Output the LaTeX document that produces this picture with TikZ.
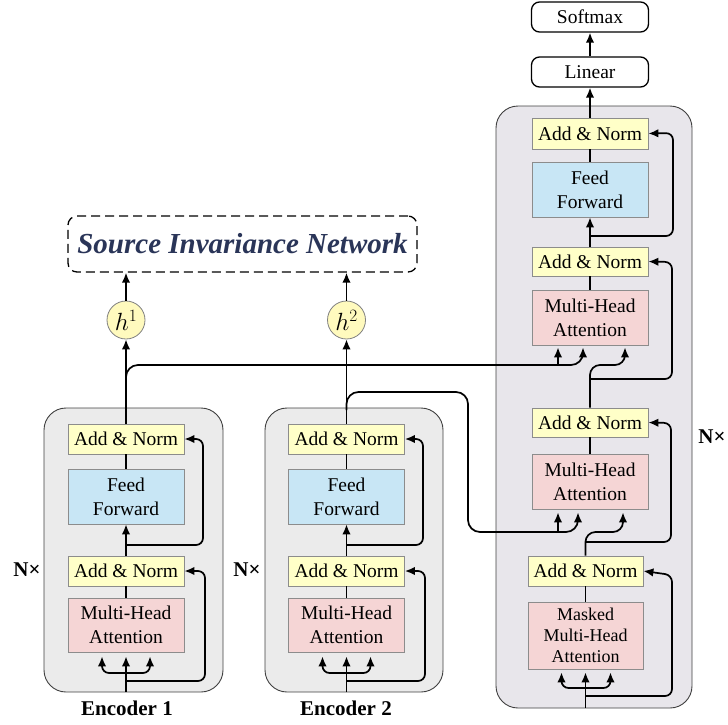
\documentclass[tikz,border=0pt]{standalone}
\usepackage{fontspec}
\setmainfont{Liberation Serif}
\usetikzlibrary{arrows.meta,calc}
\definecolor{anfill}{RGB}{255,255,200}
\definecolor{fffill}{RGB}{200,230,245}
\definecolor{mhfill}{RGB}{245,213,213}
\definecolor{encfill}{RGB}{235,235,235}
\definecolor{decfill}{RGB}{232,230,235}
\definecolor{hfill}{RGB}{255,250,190}
\definecolor{sincol}{RGB}{42,53,88}
\begin{document}
\begin{tikzpicture}[x=1pt,y=-1pt,
  arr/.style={-{Latex[length=10pt,width=8.5pt]}, line width=1.7pt},
  con/.style={line width=1.7pt},
  blk/.style={draw=black!45, line width=0.8pt, minimum width=116pt, inner sep=0pt, align=center, font=\fontsize{19.5}{24}\selectfont},
  an/.style={blk, fill=anfill, minimum height=30pt},
  ffb/.style={blk, fill=fffill, minimum height=55pt},
  mh/.style={blk, fill=mhfill, minimum height=55pt},
  outb/.style={draw, line width=1.3pt, rounded corners=8pt, minimum width=117pt, minimum height=30pt, inner sep=0pt, font=\fontsize{19.5}{24}\selectfont},
  cont/.style={draw=black!75, line width=0.9pt, rounded corners=22pt},
  hc/.style={circle, draw=black!50, line width=0.8pt, fill=hfill, minimum size=38pt, inner sep=0pt, font=\fontsize{23}{23}\selectfont},
  lab/.style={font=\bfseries\fontsize{21}{21}\selectfont}]
\useasboundingbox (0,0) rectangle (728,724);

% containers
\node[cont, fill=encfill, minimum width=179pt, minimum height=284pt] (c1) at (133.5,550) {};
\node[cont, fill=encfill, minimum width=178pt, minimum height=284pt] (c2) at (354,550) {};
\node[cont, fill=decfill, minimum width=196pt, minimum height=602pt] (cd) at (594,407) {};

% Source invariance network
\node[draw, line width=1.3pt, dash pattern=on 9pt off 5pt, rounded corners=9pt, minimum width=349pt, minimum height=56pt, text=sincol, font=\bfseries\itshape\fontsize{29}{29}\selectfont] (sin) at (242.5,244) {Source Invariance Network};

% Encoder 1
\node[an] (a1t) at (126,439) {Add \& Norm};
\node[ffb] (f1) at (126,496.5) {Feed\\Forward};
\node[an] (a1b) at (126,571) {Add \& Norm};
\node[mh, minimum height=54pt] (m1) at (126,625) {Multi-Head\\Attention};
\node[hc] (h1) at (126,320) {$h^1$};
\node[lab] (e1l) at (127,708) {Encoder 1};
\node[lab] (n1) at (27,570) {N×};

% Encoder 2
\node[an] (a2t) at (346.5,439) {Add \& Norm};
\node[ffb] (f2) at (346.5,496.5) {Feed\\Forward};
\node[an] (a2b) at (346.5,571) {Add \& Norm};
\node[mh, minimum height=54pt] (m2) at (346.5,625) {Multi-Head\\Attention};
\node[hc] (h2) at (346.5,320) {$h^2$};
\node[lab] (e2l) at (346,708) {Encoder 2};
\node[lab] (n2) at (247,570) {N×};

% Decoder
\node[outb] (sm) at (590,17) {Softmax};
\node[outb] (lin) at (590,72) {Linear};
\node[an, minimum height=31pt] (d3) at (590,133.5) {Add \& Norm};
\node[ffb] (dff) at (590,189.5) {Feed\\Forward};
\node[an, minimum height=29pt] (d2) at (590,261.5) {Add \& Norm};
\node[mh] (dm2) at (590,317.5) {Multi-Head\\Attention};
\node[an, minimum height=29pt] (d1) at (590,422.5) {Add \& Norm};
\node[mh] (dm1) at (590,481.5) {Multi-Head\\Attention};
\node[an, minimum width=115pt] (d0) at (585.5,571) {Add \& Norm};
\node[mh, minimum width=115pt, minimum height=67pt, font=\fontsize{18}{21}\selectfont] (dm0) at (585.5,635.5) {Masked\\Multi-Head\\Attention};
\node[lab] (nd) at (712,437) {N×};

% coordinates
\coordinate (i1) at (126,692);
\coordinate (i2) at (346.5,692);
\coordinate (id) at (585.5,708);

% Encoder 1 connectors
\draw[arr, shorten >=4pt] (i1) -- (m1.south);
\draw[arr, rounded corners=7pt, shorten >=4pt] (126,673) -| ($(m1.south)+(-24,0)$);
\draw[arr, rounded corners=7pt, shorten >=4pt] (126,673) -| ($(m1.south)+(24,0)$);
\draw[arr, rounded corners=7pt] (126,681) -| (205,571) -- (a1b.east);
\draw[con] (m1.north) -- (a1b.south);
\draw[arr] (a1b.north) -- (f1.south);
\draw[arr, rounded corners=7pt] (126,545) -| (203,439) -- (a1t.east);
\draw[con] (f1.north) -- (a1t.south);
\draw[arr] (a1t.north) -- (h1.south);
\draw[arr] (h1.north) -- (h1.north |- sin.south);

% Encoder 2 connectors
\draw[arr, shorten >=4pt] (i2) -- (m2.south);
\draw[arr, rounded corners=7pt, shorten >=4pt] (346.5,673) -| ($(m2.south)+(-24,0)$);
\draw[arr, rounded corners=7pt, shorten >=4pt] (346.5,673) -| ($(m2.south)+(24,0)$);
\draw[arr, rounded corners=7pt] (346.5,681) -| (425,571) -- (a2b.east);
\draw[con] (m2.north) -- (a2b.south);
\draw[arr] (a2b.north) -- (f2.south);
\draw[arr, rounded corners=7pt] (346.5,545) -| (423,439) -- (a2t.east);
\draw[con] (f2.north) -- (a2t.south);
\draw[arr] (a2t.north) -- (h2.south);
\draw[arr] (h2.north) -- (h2.north |- sin.south);

% Encoder outputs to decoder
\draw[arr, rounded corners=12pt, shorten >=2pt] (126,395) |- (583,365) -- ($(dm2.south)+(-7,0)$);
\draw[arr, shorten >=2pt] (558,365) -- ($(dm2.south)+(-32,0)$);
\draw[arr, rounded corners=12pt, shorten >=3pt] (346.5,410) |- (468,392) |- (578,532) -- ($(dm1.south)+(-12,0)$);
\draw[arr, shorten >=3pt] (558,532) -- ($(dm1.south)+(-32,0)$);

% Decoder connectors
\draw[arr, shorten >=3pt] (id) -- (dm0.south);
\draw[arr, rounded corners=7pt, shorten >=3pt] (585.5,688) -| ($(dm0.south)+(-24,0)$);
\draw[arr, rounded corners=7pt, shorten >=3pt] (585.5,688) -| ($(dm0.south)+(25,0)$);
\draw[arr, rounded corners=7pt] (585.5,696) -| (672,575) -- (d0.east);
\draw[con] (dm0.north) -- (d0.south);
\draw[arr, rounded corners=10pt, shorten >=3pt] (d0.north) |- (623,532) -- ($(dm1.south)+(33,0)$);
\draw[arr, rounded corners=7pt] (585.5,542) -| (671,423) -- (d1.east);
\draw[con] (dm1.north) -- (d1.south);
\draw[arr, rounded corners=10pt, shorten >=2pt] (d1.north) |- (625,365) -- ($(dm2.south)+(35,0)$);
\draw[arr, rounded corners=7pt] (590,379) -| (672,262) -- (d2.east);
\draw[con] (dm2.north) -- (d2.south);
\draw[arr] (d2.north) -- (dff.south);
\draw[arr, rounded corners=7pt] (590,236) -| (673,133) -- (d3.east);
\draw[con] (dff.north) -- (d3.south);
\draw[arr] (d3.north) -- (lin.south);
\draw[arr] (lin.north) -- (sm.south);
\end{tikzpicture}
\end{document}
